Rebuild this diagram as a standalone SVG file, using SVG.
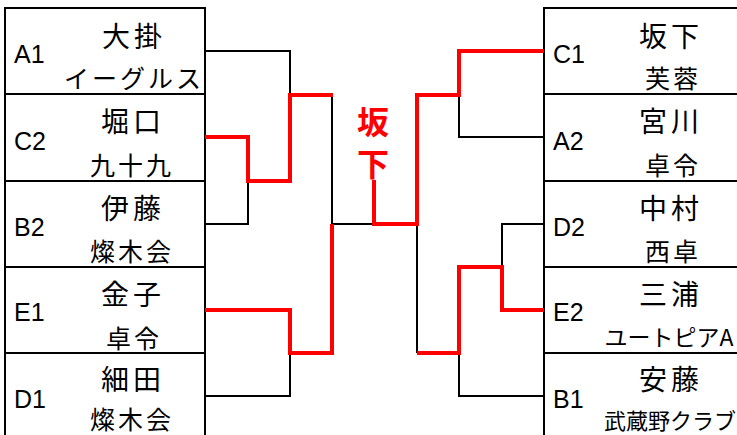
<svg xmlns="http://www.w3.org/2000/svg" width="737" height="435" viewBox="0 0 737 435">
<style>
.box{fill:#fff;stroke:#000;stroke-width:2}
.lbl{font-family:"Liberation Sans",Arial,sans-serif;font-size:25px;fill:#000}
.n1{font-family:"Noto Sans CJK JP","Noto Sans",sans-serif;font-size:28px;letter-spacing:4px;fill:#000;text-anchor:middle}
.n2{font-family:"Noto Sans CJK JP","Noto Sans",sans-serif;font-size:25px;letter-spacing:3px;fill:#000;text-anchor:middle}
.n2s{font-family:"Noto Sans CJK JP","Noto Sans",sans-serif;font-size:23px;fill:#000;text-anchor:middle}
.blk{fill:none;stroke:#000;stroke-width:2}
.red{fill:none;stroke:#f00;stroke-width:4}
.win{font-family:"Noto Sans CJK JP",sans-serif;font-size:32px;font-weight:bold;fill:#f00;text-anchor:middle}
</style>
<rect width="737" height="435" fill="#fff"/>
<g id="A1"><rect class="box" x="5" y="8" width="200" height="86"/><text class="lbl" x="14" y="63">A1</text><text class="n1" x="134" y="47">大掛</text><text class="n2" x="134" y="88">イーグルス</text></g>
<g id="C2"><rect class="box" x="5" y="94" width="200" height="87"/><text class="lbl" x="14" y="150">C2</text><text class="n1" x="133" y="132">堀口</text><text class="n2" x="132" y="175">九十九</text></g>
<g id="B2"><rect class="box" x="5" y="181" width="200" height="86"/><text class="lbl" x="14" y="236">B2</text><text class="n1" x="133" y="219">伊藤</text><text class="n2" x="132" y="261">燦木会</text></g>
<g id="E1"><rect class="box" x="5" y="267" width="200" height="86"/><text class="lbl" x="14" y="321">E1</text><text class="n1" x="133" y="305">金子</text><text class="n2" x="134" y="348">卓令</text></g>
<g id="D1"><rect class="box" x="5" y="353" width="200" height="90"/><text class="lbl" x="14" y="408">D1</text><text class="n1" x="133" y="390">細田</text><text class="n2" x="132" y="429">燦木会</text></g>
<g id="C1"><rect class="box" x="544" y="8" width="200" height="86"/><text class="lbl" x="553" y="63">C1</text><text class="n1" x="671" y="47">坂下</text><text class="n2" x="673" y="88">芙蓉</text></g>
<g id="A2"><rect class="box" x="544" y="94" width="200" height="87"/><text class="lbl" x="553" y="150">A2</text><text class="n1" x="671" y="132">宮川</text><text class="n2" x="673" y="175">卓令</text></g>
<g id="D2"><rect class="box" x="544" y="181" width="200" height="86"/><text class="lbl" x="553" y="236">D2</text><text class="n1" x="671" y="219">中村</text><text class="n2" x="673" y="261">西卓</text></g>
<g id="E2"><rect class="box" x="544" y="267" width="200" height="86"/><text class="lbl" x="553" y="321">E2</text><text class="n1" x="671" y="305">三浦</text><text class="n2s" x="669" y="346">ユートピアA</text></g>
<g id="B1"><rect class="box" x="544" y="353" width="200" height="90"/><text class="lbl" x="553" y="408">B1</text><text class="n1" x="671" y="390">安藤</text><text class="n2s" x="670" y="429" style="font-size:22px">武蔵野クラブ</text></g>
<g id="connectors">
<path class="blk" d="M205,51 H290 V95"/>
<path class="blk" d="M205,224 H248 V181"/>
<path class="blk" d="M205,396 H290 V353"/>
<path class="blk" d="M332,95 V224 H374"/>
<path class="blk" d="M544,137 H459 V95"/>
<path class="blk" d="M544,224 H502 V267"/>
<path class="blk" d="M544,396 H459 V353"/>
<path class="blk" d="M417,224 V353"/>
<path class="red" d="M205,137 H248 V181 H290 V95 H333"/>
<path class="red" d="M205,310 H290 V353 H332 V224"/>
<path class="red" d="M374,180 V224 H417 V95 H459 V51 H544"/>
<path class="red" d="M417,353 H459 V267 H502 V310 H544"/>
</g>
<g id="winner"><text class="win" x="373" y="134">坂</text><text class="win" x="373" y="176">下</text></g>
</svg>
